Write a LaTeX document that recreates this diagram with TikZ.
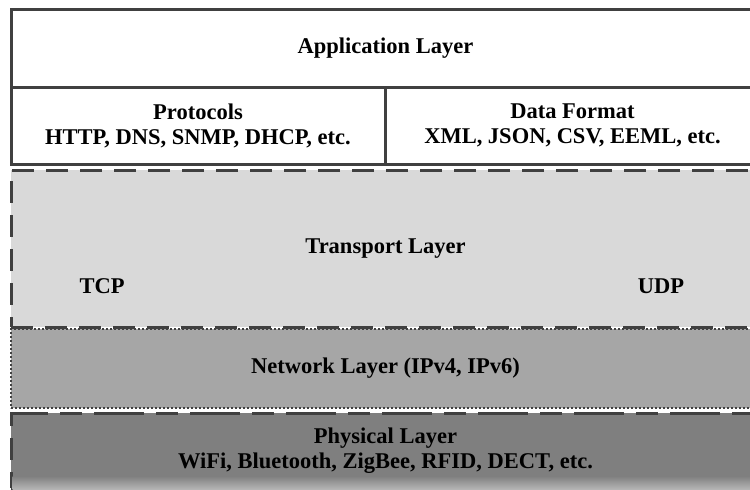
\documentclass[tikz,border=0pt]{standalone}
\usepackage{fontspec}
\setmainfont{Liberation Serif}
\usetikzlibrary{positioning}
\definecolor{edgegray}{HTML}{404040}
\definecolor{transgray}{HTML}{D9D9D9}
\definecolor{netgray}{HTML}{A6A6A6}
\definecolor{physgray}{HTML}{7F7F7F}

\begin{document}
\begin{tikzpicture}[x=0.5pt,y=-0.5pt,
    every node/.style={font=\bfseries\fontsize{11.25}{12.5}\selectfont, inner sep=0pt, outer sep=0pt},
    layerbox/.style={draw=edgegray, line width=1.5pt, minimum width=374.5pt}]
        \useasboundingbox (0,0) rectangle (750,489);

        \node (app) [layerbox, anchor=north west, minimum height=39pt] at (11,9) {Application Layer};
        \node (proto) [layerbox, below=0pt of app.south west, anchor=north west, minimum width=187pt, minimum height=38.5pt, align=center] {Protocols\\HTTP, DNS, SNMP, DHCP, etc.};
        \node (format) [layerbox, right=0pt of proto.north east, anchor=north west, minimum width=187.5pt, minimum height=38.5pt, align=center] {Data Format\\XML, JSON, CSV, EEML, etc.};

        \node (trans) [layerbox, below=3pt of proto.south west, anchor=north west, fill=transgray, minimum height=78.5pt, dash pattern=on 11pt off 6pt] {Transport Layer};
        \node (tcp) at (102,286) {TCP};
        \node (udp) at (661,286) {UDP};

        \node (net) [layerbox, below=1pt of trans.south west, anchor=north west, fill=netgray, minimum height=39.5pt, line width=1pt, dash pattern=on 1.2pt off 0.8pt] {Network Layer (IPv4, IPv6)};

        \node (phys) [layerbox, below=2.5pt of net.south west, anchor=north west, fill=physgray, minimum height=37.5pt, align=center, dash pattern=on 25pt off 6pt on 11pt off 6pt] {Physical Layer\\WiFi, Bluetooth, ZigBee, RFID, DECT, etc.};
        \fill[top color=physgray, bottom color=physgray!55] (12.5,476) rectangle (760,490);

    \end{tikzpicture}
\end{document}
